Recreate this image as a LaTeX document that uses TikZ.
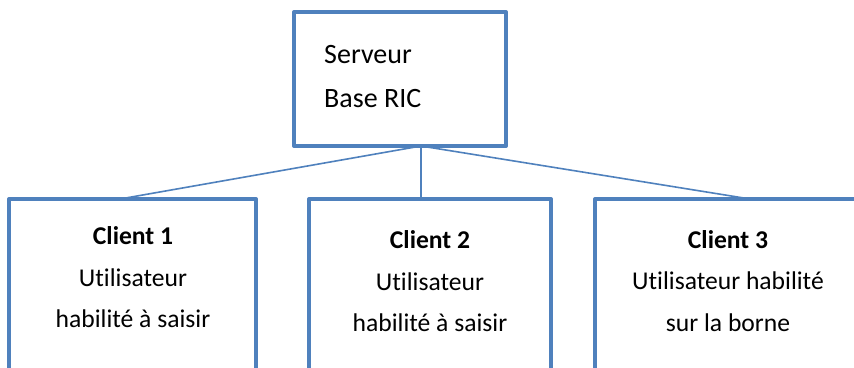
\documentclass[tikz,border=0pt]{standalone}
\usepackage{fontspec}
\setmainfont{Carlito}[Ligatures=NoCommon]
\definecolor{boxblue}{HTML}{4F81BD}
\tikzset{
  frame/.style={draw=boxblue, line width=4pt, line join=round, fill=none,
    inner sep=0pt, outer sep=0pt, rectangle},
  link/.style={draw=boxblue, line width=1.6pt},
  srvtext/.style={anchor=base west, inner sep=0pt, font=\fontsize{28}{30}\selectfont},
  clitext/.style={anchor=base, inner sep=0pt, font=\fontsize{25.6}{28}\selectfont},
}
\begin{document}
\begin{tikzpicture}[x=1pt,y=-1pt]
  \useasboundingbox (0,0) rectangle (854,367);
  \clip (0,0) rectangle (854,367);
  \fill[white] (0,0) rectangle (854,367);

  % server box and its two lines
  \node[frame, minimum width=212pt, minimum height=134pt] (srv) at (400,79) {};
  \node[srvtext] (srvA) at (324,63) {Serveur};
  \node[srvtext] (srvB) at (324,107) {Base RIC};

  % client boxes, running past the lower edge
  \node[frame, minimum width=247pt, minimum height=221pt] (c1) at (132.5,309.5) {};
  \node[frame, minimum width=242pt, minimum height=221pt] (c2) at (430,309.5) {};
  \node[frame, minimum width=266pt, minimum height=221pt] (c3) at (728,309.5) {};

  % connectors from one point under the server
  \coordinate (hub) at (421,146);
  \coordinate (t1) at (120,199);
  \coordinate (t2) at (421,199);
  \coordinate (t3) at (750,199);
  \draw[link] (hub) -- (t1);
  \draw[link] (hub) -- (t2);
  \draw[link] (hub) -- (t3);

  % client labels
  \node[clitext] (c1a) at (133,244) {\bfseries Client 1};
  \node[clitext] (c1b) at (133,286) {Utilisateur};
  \node[clitext] (c1c) at (133,327) {habilité à saisir};

  \node[clitext] (c2a) at (430,248) {\bfseries Client 2};
  \node[clitext] (c2b) at (430,290) {Utilisateur};
  \node[clitext] (c2c) at (430,331) {habilité à saisir};

  \node[clitext] (c3a) at (728,248) {\bfseries Client 3};
  \node[clitext] (c3b) at (728,289) {Utilisateur habilité};
  \node[clitext] (c3c) at (728,331) {sur la borne};
\end{tikzpicture}
\end{document}
